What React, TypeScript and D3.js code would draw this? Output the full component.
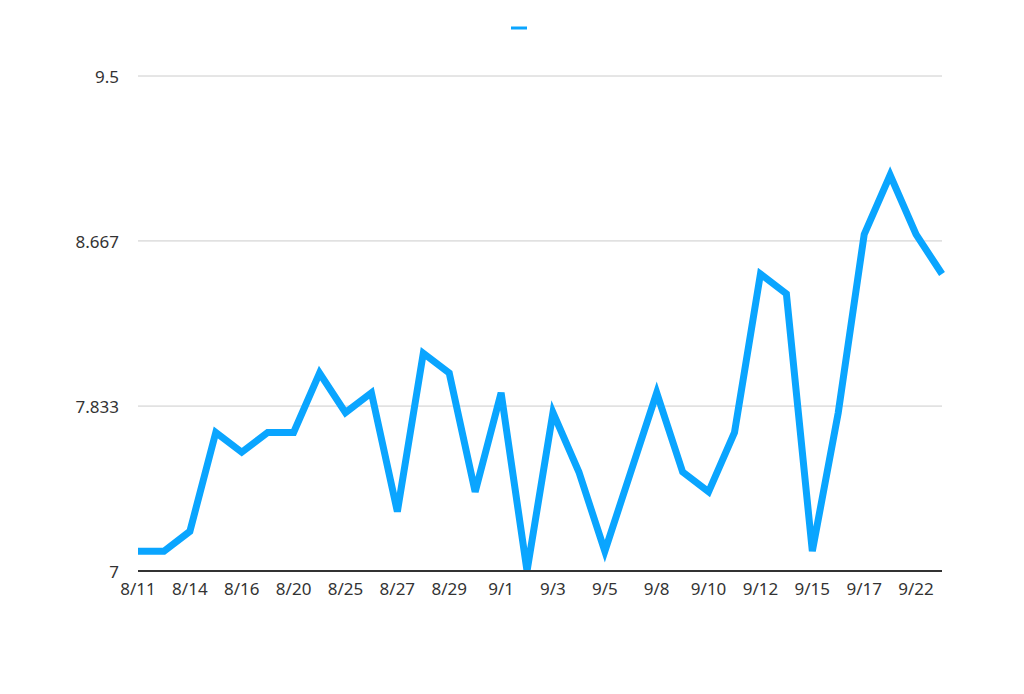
import React from "react";
import * as d3 from "d3";

const categories = [
  "8/11", "8/13", "8/14", "8/15", "8/16", "8/19", "8/20", "8/22",
  "8/25", "8/26", "8/27", "8/28", "8/29", "8/30", "9/1", "9/2",
  "9/3", "9/4", "9/5", "9/6", "9/8", "9/9", "9/10", "9/11",
  "9/12", "9/13", "9/15", "9/16", "9/17", "9/19", "9/22", "9/24",
];
const values = [
  7.1, 7.1, 7.2, 7.7, 7.6, 7.7, 7.7, 8.0,
  7.8, 7.9, 7.3, 8.1, 8.0, 7.4, 7.9, 7.0,
  7.8, 7.5, 7.1, 7.5, 7.9, 7.5, 7.4, 7.7,
  8.5, 8.4, 7.1, 7.8, 8.7, 9.0, 8.7, 8.5,
];
const yTicks = [7, 7.833, 8.667, 9.5];

const W = 1024;
const H = 694;
const M = { left: 138, right: 82, top: 76, bottom: 123 };
const FONT = "'Noto Sans', sans-serif";

export default function App() {
  const x = d3
    .scalePoint<string>()
    .domain(categories)
    .range([M.left, W - M.right]);
  const y = d3.scaleLinear().domain([7, 9.5]).range([H - M.bottom, M.top]);
  const line = d3
    .line<number>()
    .x((_, i) => x(categories[i]) as number)
    .y((d) => y(d));

  return (
    <svg
      width={W}
      height={H}
      style={{ position: "absolute", left: 0, top: 0, background: "#fff" }}
    >
      <line x1={511} x2={527} y1={28} y2={28} stroke="#0aa5ff" strokeWidth={3} />
      {yTicks.map((t) => (
        <g key={t}>
          {t !== 7 && (
            <line
              x1={M.left}
              x2={W - M.right}
              y1={y(t)}
              y2={y(t)}
              stroke="#cccccc"
              strokeWidth={1}
            />
          )}
          <text
            x={119}
            y={y(t) + 1}
            dy="0.35em"
            textAnchor="end"
            fontFamily={FONT}
            fontSize={17}
            fill="#333"
          >
            {t}
          </text>
        </g>
      ))}
      <path
        d={line(values) || ""}
        fill="none"
        stroke="#0aa5ff"
        strokeWidth={7}
        strokeLinejoin="miter"
      />
      <line
        x1={M.left}
        x2={W - M.right}
        y1={y(7)}
        y2={y(7)}
        stroke="#333"
        strokeWidth={2}
      />
      {categories.map((c, i) =>
        i % 2 === 0 ? (
          <text
            key={c}
            x={x(c) as number}
            y={589}
            dy="0.35em"
            textAnchor="middle"
            fontFamily={FONT}
            fontSize={17}
            fill="#333"
          >
            {c}
          </text>
        ) : null
      )}
    </svg>
  );
}
